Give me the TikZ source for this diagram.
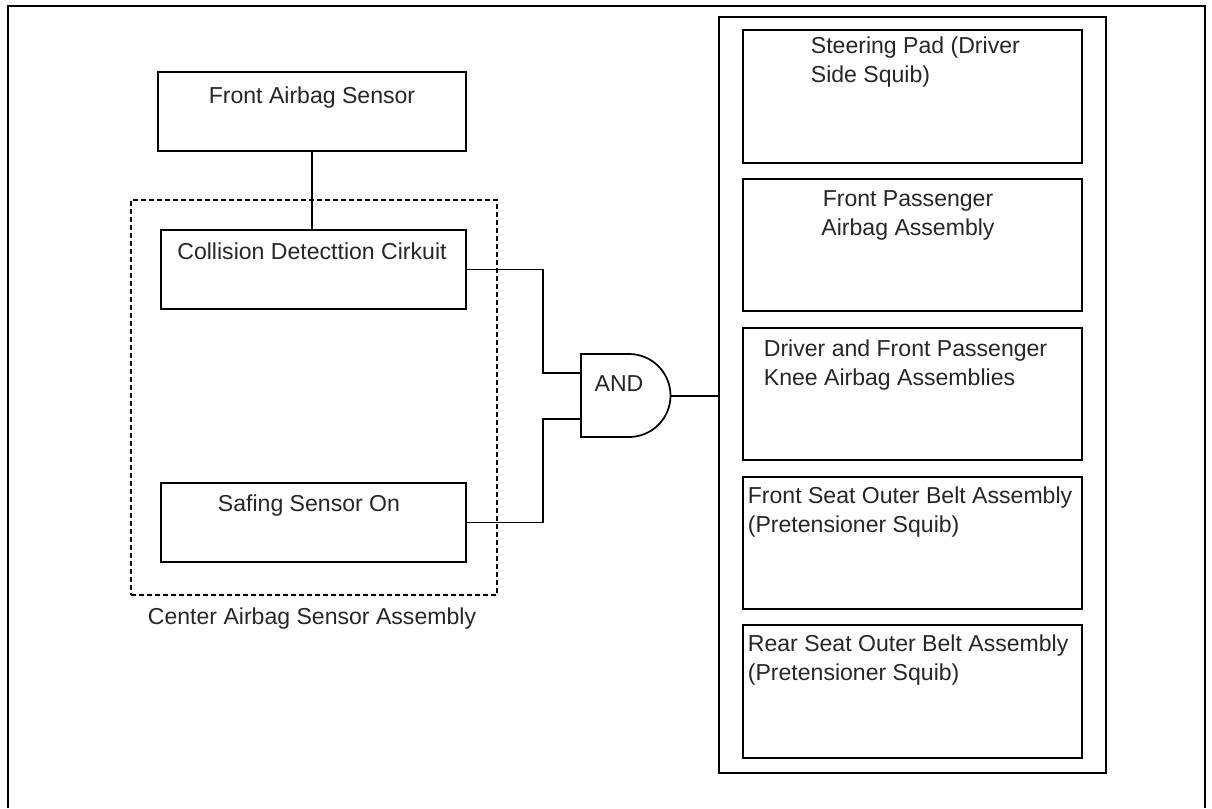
\documentclass[tikz,border=0pt]{standalone}
\usepackage{fontspec}
\setmainfont{Liberation Sans}
\usetikzlibrary{fit}

\begin{document}
\begin{tikzpicture}[x=0.75pt, y=-0.75pt, line width=1.3pt,
	box/.style = {draw, inner sep=0pt},
	group/.style = {draw, line width=1.1pt, dash pattern=on 3.75pt off 2.25pt, inner sep=0pt},
	txt/.style = {inner sep=0pt, text=black!85, font=\fontsize{17.3}{21.4}\selectfont, align=left}]
\useasboundingbox (0,0) rectangle (1212,808);
\draw (8,808) |- (1205,6) -- (1205,808);
% sensor side
\node[box, fit={(158,72) (466,151)}] (fas) {};
\node[txt, anchor=base] (fastxt) at (312,103) {Front Airbag Sensor};
\node[group, fit={(131,200) (497,595)}] (casa) {};
\node[box, fit={(161,230) (466,309)}] (cdc) {};
\node[txt, anchor=base] (cdctxt) at (312,259) {Collision Detecttion Cirkuit};
\node[box, fit={(161,483) (466,562)}] (safe) {};
\node[txt, anchor=base] (safetxt) at (309,511) {Safing Sensor On};
\node[txt, anchor=base] (casatxt) at (312,624) {Center Airbag Sensor Assembly};
% gate
\draw (581,354) -- (629,354) arc[start angle=-90, end angle=90, radius=41.5] -- (581,437) -- cycle;
\node[txt, anchor=base] (gate) at (619,391) {AND};
\coordinate (in1) at (581,373);
\coordinate (in2) at (581,419);
\coordinate (out) at (670,396);
% squibs
\node[box, fit={(719,17) (1106,773)}] (outs) {};
\node[box, fit={(743,30) (1082,163)}] (b1) {};
\node[box, fit={(743,179) (1082,311)}] (b2) {};
\node[box, fit={(743,328) (1082,460)}] (b3) {};
\node[box, fit={(743,477) (1082,609)}] (b4) {};
\node[box, fit={(743,625) (1082,758)}] (b5) {};
\node[txt, anchor=north west] (b1txt) at (810,36) {Steering Pad (Driver\\Side Squib)};
\node[txt, anchor=north, align=center] (b2txt) at (908,190) {Front Passenger\\Airbag Assembly};
\node[txt, anchor=north west] (b3txt) at (763,339) {Driver and Front Passenger\\Knee Airbag Assemblies};
\node[txt, anchor=north west] (b4txt) at (747,486) {Front Seat Outer Belt Assembly\\(Pretensioner Squib)};
\node[txt, anchor=north west] (b5txt) at (747,634) {Rear Seat Outer Belt Assembly\\(Pretensioner Squib)};
% wires
\draw (fas.south) -- (fas.south |- cdc.north);
\draw (cdc.east) -- ++(76,0) |- (in1);
\draw (safe.east) -- ++(76,0) |- (in2);
\draw (out) -- (out -| outs.west);
\end{tikzpicture}
\end{document}
